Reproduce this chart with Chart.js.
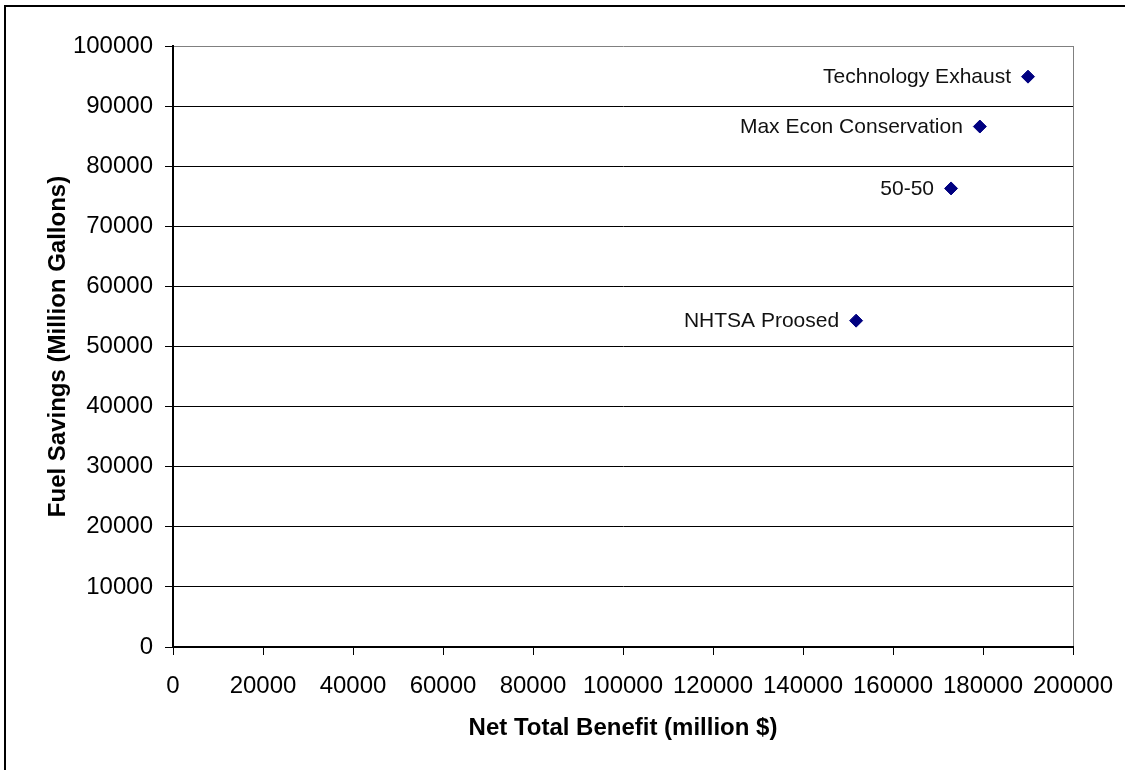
<!DOCTYPE html>
<html>
<head>
<meta charset="utf-8">
<script src="https://cdn.jsdelivr.net/npm/chart.js@4"></script>
<style>
  body { margin: 0; background: #fff; }
  #frame { position: absolute; left: 4px; top: 5px; width: 2000px; height: 2000px;
           border-left: 2px solid #000; border-top: 2px solid #000; }
  #wrap { position: absolute; left: 0; top: 0; width: 1125px; height: 770px; }
</style>
</head>
<body>
<div id="frame"></div>
<div id="wrap"><canvas id="scatter"></canvas></div>
<script>
// scenario names and values
const scenarios = ['Technology Exhaust', 'Max Econ Conservation', '50-50', 'NHTSA Proosed'];
const netBenefit = [190000, 179300, 172900, 151800];
const fuelSavings = [94900, 86600, 76300, 54300];

const xTicks = [0, 20000, 40000, 60000, 80000, 100000, 120000, 140000, 160000, 180000, 200000];
const yTicks = [0, 10000, 20000, 30000, 40000, 50000, 60000, 70000, 80000, 90000, 100000];

const fontFamily = '"Liberation Sans", Arial, sans-serif';

// labels to the left of each marker
const pointLabels = {
    id: 'pointLabels',
    afterDatasetsDraw(chart) {
        const ctx = chart.ctx;
        const meta = chart.getDatasetMeta(0);
        ctx.save();
        ctx.font = '21px ' + fontFamily;
        ctx.fillStyle = '#111';
        ctx.textAlign = 'right';
        ctx.textBaseline = 'middle';
        meta.data.forEach(function (el, i) {
            ctx.fillText(scenarios[i], el.x - 17, el.y + 1);
        });
        ctx.restore();
    }
};

document.addEventListener('DOMContentLoaded', function () {
    let ctx = document.getElementById('scatter').getContext('2d');
    let points = netBenefit.map(function (x, i) { return { x: x, y: fuelSavings[i] }; });

    new Chart(ctx, {
        type: 'scatter',
        data: {
            datasets: [{
                data: points,
                pointStyle: 'rectRot',
                pointRadius: 6.5,
                pointBackgroundColor: '#000080',
                pointBorderColor: '#000080',
                pointBorderWidth: 1
            }]
        },
        options: {
            responsive: true,
            maintainAspectRatio: false,
            animation: false,
            layout: { padding: { left: 0, top: 46, right: 52, bottom: 0 } },
            plugins: { legend: { display: false }, tooltip: { enabled: false } },
            scales: {
                x: {
                    type: 'linear',
                    min: 0,
                    max: 200000,
                    afterBuildTicks: function (axis) { axis.ticks = xTicks.map(function (v) { return { value: v }; }); },
                    afterFit: function (axis) {
                        axis.height = 123;
                        axis.paddingLeft = 0;
                        axis.paddingRight = 0;
                    },
                    grid: {
                        color: function (c) { return c.tick && c.tick.value === 200000 ? '#808080' : 'rgba(0,0,0,0)'; },
                        tickColor: '#000',
                        tickLength: 8,
                        lineWidth: 1
                    },
                    border: { color: '#000', width: 2 },
                    ticks: {
                        color: '#000',
                        padding: 17,
                        maxRotation: 0,
                        font: { family: fontFamily, size: 24 },
                        callback: function (v) { return String(v); }
                    },
                    title: {
                        display: true,
                        text: 'Net Total Benefit (million $)',
                        color: '#000',
                        font: { family: fontFamily, size: 24, weight: 'bold' },
                        padding: { top: 0, bottom: 27 }
                    }
                },
                y: {
                    type: 'linear',
                    min: 0,
                    max: 100000,
                    afterBuildTicks: function (axis) { axis.ticks = yTicks.map(function (v) { return { value: v }; }); },
                    afterFit: function (axis) {
                        axis.width = 173;
                        axis.paddingTop = 0;
                        axis.paddingBottom = 0;
                    },
                    grid: {
                        color: function (c) { return c.tick && c.tick.value === 100000 ? '#808080' : '#000'; },
                        tickColor: '#000',
                        tickLength: 8,
                        lineWidth: 1
                    },
                    border: { color: '#000', width: 2 },
                    ticks: {
                        color: '#000',
                        padding: 12,
                        font: { family: fontFamily, size: 24 },
                        callback: function (v) { return String(v); }
                    },
                    title: {
                        display: true,
                        text: 'Fuel Savings (Million Gallons)',
                        color: '#000',
                        font: { family: fontFamily, size: 24, weight: 'bold' },
                        padding: { top: 44, bottom: 0 }
                    }
                }
            }
        },
        plugins: [pointLabels]
    });
});
</script>
</body>
</html>
